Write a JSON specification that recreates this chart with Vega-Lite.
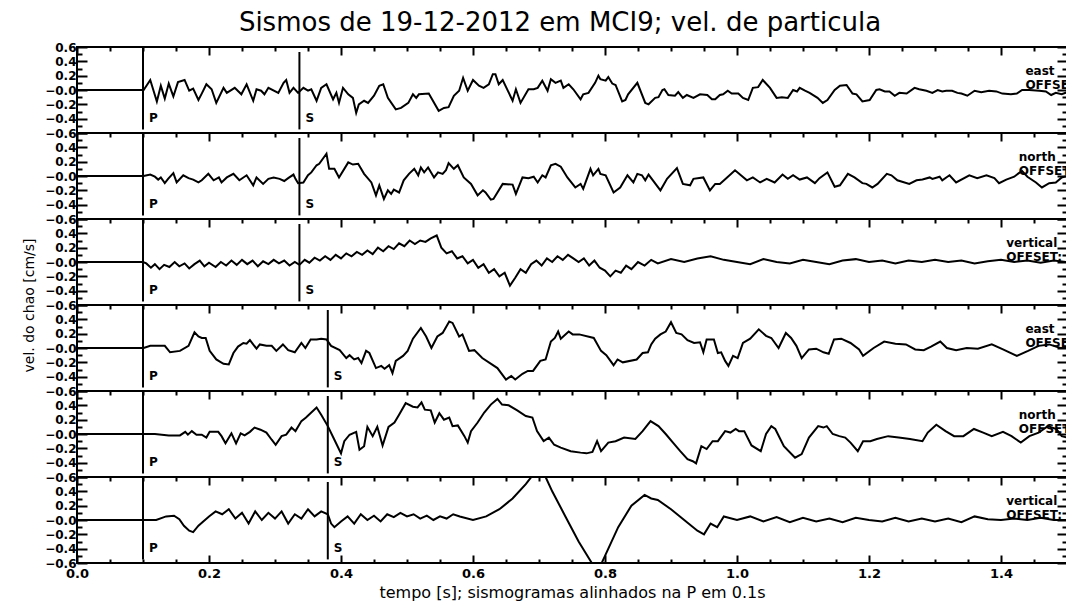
{
"$schema": "https://vega.github.io/schema/vega-lite/v6.json",
"background": "white",
"padding": {"left": 20, "top": 10, "right": 0, "bottom": 0},
"title": {"text": "Sismos de 19-12-2012 em MCI9; vel. de particula", "font": "DejaVu Sans", "fontSize": 26, "fontWeight": "normal", "color": "black", "anchor": "middle", "frame": "group", "offset": 4, "dx": -12},
"datasets": {
"p1": [{"t":0,"v":0},{"t":0.1,"v":0},{"t":0.101,"v":0},{"t":0.111,"v":0.14},{"t":0.121,"v":-0.16},{"t":0.127,"v":0.06},{"t":0.133,"v":-0.12},{"t":0.139,"v":0.09},{"t":0.146,"v":-0.09},{"t":0.153,"v":0.11},{"t":0.163,"v":0.14},{"t":0.17,"v":-0.01},{"t":0.176,"v":0.02},{"t":0.184,"v":-0.14},{"t":0.189,"v":-0.05},{"t":0.196,"v":0.08},{"t":0.204,"v":0.01},{"t":0.211,"v":-0.18},{"t":0.222,"v":0.03},{"t":0.227,"v":-0.04},{"t":0.239,"v":0.03},{"t":0.249,"v":-0.06},{"t":0.257,"v":0.08},{"t":0.267,"v":-0.15},{"t":0.272,"v":0.01},{"t":0.279,"v":-0.01},{"t":0.284,"v":-0.06},{"t":0.29,"v":0.03},{"t":0.305,"v":-0.04},{"t":0.313,"v":0.1},{"t":0.317,"v":0.14},{"t":0.322,"v":-0.04},{"t":0.328,"v":0.03},{"t":0.335,"v":-0.04},{"t":0.343,"v":0.03},{"t":0.35,"v":-0.01},{"t":0.355,"v":0.01},{"t":0.363,"v":-0.15},{"t":0.37,"v":0.03},{"t":0.378,"v":0.08},{"t":0.388,"v":-0.13},{"t":0.393,"v":-0.04},{"t":0.397,"v":-0.18},{"t":0.403,"v":0.03},{"t":0.411,"v":-0.06},{"t":0.418,"v":-0.11},{"t":0.423,"v":-0.32},{"t":0.427,"v":-0.2},{"t":0.435,"v":-0.15},{"t":0.441,"v":-0.18},{"t":0.45,"v":-0.08},{"t":0.458,"v":0.06},{"t":0.464,"v":0.08},{"t":0.471,"v":-0.11},{"t":0.483,"v":-0.27},{"t":0.491,"v":-0.25},{"t":0.502,"v":-0.18},{"t":0.509,"v":-0.06},{"t":0.514,"v":-0.11},{"t":0.518,"v":-0.06},{"t":0.533,"v":-0.05},{"t":0.548,"v":-0.29},{"t":0.556,"v":-0.25},{"t":0.563,"v":-0.24},{"t":0.571,"v":-0.08},{"t":0.579,"v":-0.01},{"t":0.585,"v":0.17},{"t":0.592,"v":-0.01},{"t":0.6,"v":0.14},{"t":0.609,"v":0.06},{"t":0.616,"v":0.03},{"t":0.624,"v":0.08},{"t":0.63,"v":0.22},{"t":0.634,"v":0.22},{"t":0.639,"v":0.08},{"t":0.645,"v":0.14},{"t":0.66,"v":-0.15},{"t":0.665,"v":0.01},{"t":0.672,"v":-0.18},{"t":0.684,"v":0.01},{"t":0.692,"v":0.01},{"t":0.698,"v":0.03},{"t":0.705,"v":0.13},{"t":0.713,"v":-0.01},{"t":0.718,"v":0.15},{"t":0.725,"v":0.1},{"t":0.733,"v":0.13},{"t":0.737,"v":0.03},{"t":0.745,"v":0.08},{"t":0.752,"v":0.01},{"t":0.763,"v":-0.13},{"t":0.767,"v":-0.06},{"t":0.775,"v":-0.04},{"t":0.785,"v":0.1},{"t":0.79,"v":0.2},{"t":0.793,"v":0.15},{"t":0.801,"v":0.13},{"t":0.805,"v":0.18},{"t":0.811,"v":0.09},{"t":0.816,"v":0.07},{"t":0.826,"v":-0.16},{"t":0.831,"v":-0.14},{"t":0.835,"v":-0.06},{"t":0.849,"v":0.1},{"t":0.861,"v":-0.18},{"t":0.866,"v":-0.2},{"t":0.876,"v":-0.11},{"t":0.881,"v":-0.1},{"t":0.887,"v":0},{"t":0.89,"v":0.01},{"t":0.896,"v":-0.07},{"t":0.906,"v":-0.08},{"t":0.911,"v":-0.03},{"t":0.918,"v":-0.11},{"t":0.924,"v":-0.07},{"t":0.934,"v":-0.11},{"t":0.944,"v":-0.06},{"t":0.955,"v":-0.07},{"t":0.962,"v":-0.13},{"t":0.967,"v":-0.13},{"t":0.974,"v":-0.07},{"t":0.979,"v":-0.06},{"t":0.986,"v":-0.01},{"t":0.992,"v":-0.05},{"t":1.002,"v":-0.05},{"t":1.009,"v":-0.11},{"t":1.017,"v":-0.14},{"t":1.024,"v":0.03},{"t":1.032,"v":0.04},{"t":1.039,"v":0.14},{"t":1.05,"v":0.03},{"t":1.06,"v":-0.11},{"t":1.068,"v":-0.1},{"t":1.077,"v":-0.11},{"t":1.085,"v":0},{"t":1.091,"v":-0.02},{"t":1.095,"v":0.03},{"t":1.103,"v":-0.01},{"t":1.11,"v":-0.04},{"t":1.122,"v":-0.11},{"t":1.13,"v":-0.18},{"t":1.137,"v":-0.14},{"t":1.148,"v":0},{"t":1.156,"v":0.06},{"t":1.166,"v":0.07},{"t":1.175,"v":-0.05},{"t":1.181,"v":-0.06},{"t":1.19,"v":-0.16},{"t":1.201,"v":-0.14},{"t":1.211,"v":0},{"t":1.216,"v":0.01},{"t":1.224,"v":-0.02},{"t":1.231,"v":-0.02},{"t":1.239,"v":-0.08},{"t":1.246,"v":-0.04},{"t":1.257,"v":-0.05},{"t":1.269,"v":0.03},{"t":1.276,"v":0.01},{"t":1.287,"v":-0.01},{"t":1.296,"v":-0.04},{"t":1.304,"v":0},{"t":1.311,"v":-0.02},{"t":1.317,"v":-0.01},{"t":1.326,"v":-0.01},{"t":1.334,"v":-0.04},{"t":1.34,"v":-0.05},{"t":1.349,"v":-0.08},{"t":1.36,"v":-0.01},{"t":1.37,"v":-0.03},{"t":1.382,"v":-0.01},{"t":1.393,"v":-0.02},{"t":1.402,"v":-0.05},{"t":1.415,"v":-0.06},{"t":1.424,"v":-0.05},{"t":1.432,"v":0},{"t":1.443,"v":0},{"t":1.458,"v":-0.01},{"t":1.468,"v":-0.02},{"t":1.476,"v":-0.07},{"t":1.483,"v":-0.04},{"t":1.492,"v":-0.06},{"t":1.5,"v":-0.03}],
"p2": [{"t":0,"v":0},{"t":0.1,"v":0},{"t":0.101,"v":0},{"t":0.111,"v":0.02},{"t":0.118,"v":-0.01},{"t":0.123,"v":-0.05},{"t":0.127,"v":-0.02},{"t":0.133,"v":-0.1},{"t":0.138,"v":-0.04},{"t":0.146,"v":0.04},{"t":0.151,"v":-0.09},{"t":0.161,"v":0.01},{"t":0.169,"v":-0.03},{"t":0.176,"v":-0.05},{"t":0.184,"v":-0.09},{"t":0.189,"v":-0.06},{"t":0.199,"v":0.03},{"t":0.207,"v":-0.06},{"t":0.215,"v":-0.02},{"t":0.219,"v":-0.09},{"t":0.227,"v":-0.02},{"t":0.237,"v":0.03},{"t":0.246,"v":-0.06},{"t":0.257,"v":0.01},{"t":0.267,"v":-0.13},{"t":0.272,"v":-0.02},{"t":0.282,"v":-0.11},{"t":0.29,"v":-0.04},{"t":0.298,"v":-0.02},{"t":0.307,"v":-0.04},{"t":0.314,"v":-0.07},{"t":0.32,"v":-0.03},{"t":0.328,"v":0.02},{"t":0.331,"v":-0.04},{"t":0.335,"v":-0.1},{"t":0.343,"v":-0.09},{"t":0.35,"v":0.01},{"t":0.355,"v":0.05},{"t":0.363,"v":0.15},{"t":0.367,"v":0.17},{"t":0.378,"v":0.31},{"t":0.382,"v":0.1},{"t":0.39,"v":0.1},{"t":0.397,"v":-0.02},{"t":0.411,"v":0.19},{"t":0.418,"v":0.16},{"t":0.426,"v":0.17},{"t":0.435,"v":0.03},{"t":0.446,"v":-0.09},{"t":0.453,"v":-0.27},{"t":0.458,"v":-0.13},{"t":0.465,"v":-0.32},{"t":0.471,"v":-0.2},{"t":0.476,"v":-0.25},{"t":0.48,"v":-0.19},{"t":0.488,"v":-0.23},{"t":0.495,"v":-0.06},{"t":0.503,"v":0.03},{"t":0.511,"v":0.1},{"t":0.517,"v":0.01},{"t":0.521,"v":0.12},{"t":0.526,"v":0.05},{"t":0.532,"v":0.12},{"t":0.541,"v":-0.02},{"t":0.547,"v":0.05},{"t":0.554,"v":0.03},{"t":0.559,"v":0.08},{"t":0.563,"v":0.18},{"t":0.571,"v":0.1},{"t":0.577,"v":0.15},{"t":0.586,"v":-0.02},{"t":0.597,"v":-0.11},{"t":0.607,"v":-0.27},{"t":0.615,"v":-0.2},{"t":0.619,"v":-0.23},{"t":0.627,"v":-0.33},{"t":0.631,"v":-0.32},{"t":0.645,"v":-0.11},{"t":0.66,"v":-0.12},{"t":0.665,"v":-0.25},{"t":0.675,"v":-0.02},{"t":0.684,"v":-0.03},{"t":0.692,"v":-0.01},{"t":0.698,"v":-0.09},{"t":0.705,"v":0.01},{"t":0.71,"v":-0.02},{"t":0.718,"v":0.15},{"t":0.725,"v":0.17},{"t":0.733,"v":0.13},{"t":0.743,"v":-0.02},{"t":0.755,"v":-0.16},{"t":0.763,"v":-0.11},{"t":0.767,"v":-0.18},{"t":0.778,"v":0.1},{"t":0.782,"v":0.01},{"t":0.79,"v":0.1},{"t":0.793,"v":0.03},{"t":0.801,"v":0.01},{"t":0.813,"v":-0.23},{"t":0.823,"v":-0.16},{"t":0.834,"v":0.01},{"t":0.843,"v":-0.09},{"t":0.849,"v":0.03},{"t":0.856,"v":0.01},{"t":0.861,"v":-0.06},{"t":0.866,"v":0.02},{"t":0.884,"v":-0.2},{"t":0.894,"v":-0.04},{"t":0.909,"v":0.11},{"t":0.918,"v":-0.11},{"t":0.929,"v":-0.13},{"t":0.934,"v":-0.04},{"t":0.949,"v":-0.02},{"t":0.959,"v":-0.2},{"t":0.967,"v":-0.11},{"t":0.974,"v":-0.11},{"t":0.985,"v":-0.02},{"t":0.997,"v":0.08},{"t":1.015,"v":-0.06},{"t":1.024,"v":-0.02},{"t":1.035,"v":-0.09},{"t":1.045,"v":-0.04},{"t":1.057,"v":-0.09},{"t":1.069,"v":0.02},{"t":1.077,"v":-0.04},{"t":1.085,"v":0.01},{"t":1.095,"v":-0.05},{"t":1.106,"v":-0.02},{"t":1.118,"v":-0.1},{"t":1.125,"v":-0.03},{"t":1.137,"v":0.05},{"t":1.148,"v":-0.15},{"t":1.156,"v":-0.13},{"t":1.168,"v":0.03},{"t":1.178,"v":-0.02},{"t":1.19,"v":-0.1},{"t":1.196,"v":-0.11},{"t":1.205,"v":-0.16},{"t":1.213,"v":-0.11},{"t":1.227,"v":0.03},{"t":1.234,"v":0.01},{"t":1.243,"v":-0.06},{"t":1.261,"v":-0.11},{"t":1.272,"v":-0.06},{"t":1.281,"v":-0.05},{"t":1.292,"v":-0.02},{"t":1.296,"v":-0.04},{"t":1.307,"v":-0.01},{"t":1.311,"v":-0.06},{"t":1.322,"v":0.01},{"t":1.332,"v":-0.09},{"t":1.352,"v":0.01},{"t":1.364,"v":-0.03},{"t":1.378,"v":0.01},{"t":1.39,"v":-0.03},{"t":1.397,"v":-0.1},{"t":1.408,"v":-0.05},{"t":1.42,"v":-0.01},{"t":1.427,"v":0.04},{"t":1.432,"v":0.07},{"t":1.44,"v":-0.01},{"t":1.453,"v":-0.09},{"t":1.462,"v":-0.16},{"t":1.473,"v":-0.1},{"t":1.483,"v":-0.09},{"t":1.492,"v":-0.02},{"t":1.5,"v":0}],
"p3": [{"t":0,"v":0},{"t":0.1,"v":0},{"t":0.105,"v":-0.02},{"t":0.112,"v":-0.08},{"t":0.118,"v":-0.03},{"t":0.125,"v":-0.1},{"t":0.132,"v":-0.04},{"t":0.14,"v":-0.07},{"t":0.148,"v":0},{"t":0.155,"v":-0.06},{"t":0.163,"v":-0.02},{"t":0.17,"v":-0.09},{"t":0.178,"v":-0.03},{"t":0.186,"v":0.02},{"t":0.193,"v":-0.06},{"t":0.2,"v":-0.01},{"t":0.21,"v":-0.07},{"t":0.218,"v":0},{"t":0.226,"v":-0.05},{"t":0.234,"v":0.02},{"t":0.242,"v":-0.04},{"t":0.25,"v":0.03},{"t":0.258,"v":-0.03},{"t":0.266,"v":0.02},{"t":0.274,"v":-0.06},{"t":0.282,"v":0.01},{"t":0.29,"v":-0.03},{"t":0.298,"v":0.03},{"t":0.306,"v":-0.02},{"t":0.314,"v":0.02},{"t":0.322,"v":-0.05},{"t":0.33,"v":0},{"t":0.337,"v":-0.04},{"t":0.345,"v":0.03},{"t":0.352,"v":-0.01},{"t":0.36,"v":0.06},{"t":0.368,"v":0.02},{"t":0.376,"v":0.08},{"t":0.384,"v":0.03},{"t":0.392,"v":0.1},{"t":0.4,"v":0.05},{"t":0.408,"v":0.12},{"t":0.416,"v":0.08},{"t":0.424,"v":0.14},{"t":0.432,"v":0.1},{"t":0.44,"v":0.16},{"t":0.448,"v":0.11},{"t":0.456,"v":0.2},{"t":0.464,"v":0.15},{"t":0.472,"v":0.22},{"t":0.48,"v":0.18},{"t":0.488,"v":0.26},{"t":0.496,"v":0.22},{"t":0.504,"v":0.3},{"t":0.512,"v":0.25},{"t":0.52,"v":0.3},{"t":0.528,"v":0.28},{"t":0.536,"v":0.33},{"t":0.545,"v":0.37},{"t":0.552,"v":0.2},{"t":0.56,"v":0.12},{"t":0.568,"v":0.15},{"t":0.576,"v":0.05},{"t":0.584,"v":0.08},{"t":0.592,"v":-0.02},{"t":0.6,"v":0.03},{"t":0.608,"v":-0.08},{"t":0.616,"v":-0.03},{"t":0.624,"v":-0.15},{"t":0.632,"v":-0.1},{"t":0.64,"v":-0.2},{"t":0.648,"v":-0.15},{"t":0.656,"v":-0.33},{"t":0.664,"v":-0.22},{"t":0.672,"v":-0.1},{"t":0.68,"v":-0.15},{"t":0.688,"v":-0.03},{"t":0.696,"v":0.02},{"t":0.704,"v":-0.05},{"t":0.712,"v":0.05},{"t":0.72,"v":0},{"t":0.728,"v":0.08},{"t":0.736,"v":0.03},{"t":0.744,"v":0.1},{"t":0.752,"v":0.05},{"t":0.76,"v":0},{"t":0.768,"v":0.05},{"t":0.776,"v":-0.05},{"t":0.784,"v":0.02},{"t":0.792,"v":-0.08},{"t":0.8,"v":-0.12},{"t":0.808,"v":-0.2},{"t":0.816,"v":-0.12},{"t":0.824,"v":-0.15},{"t":0.832,"v":-0.05},{"t":0.84,"v":-0.1},{"t":0.85,"v":0},{"t":0.86,"v":-0.05},{"t":0.87,"v":0.03},{"t":0.88,"v":-0.02},{"t":0.9,"v":0.04},{"t":0.92,"v":0},{"t":0.94,"v":0.05},{"t":0.96,"v":0.08},{"t":0.98,"v":0.03},{"t":1,"v":0},{"t":1.02,"v":-0.03},{"t":1.04,"v":0.04},{"t":1.06,"v":0},{"t":1.08,"v":-0.02},{"t":1.1,"v":0.03},{"t":1.12,"v":0},{"t":1.14,"v":-0.03},{"t":1.16,"v":0.02},{"t":1.18,"v":0.04},{"t":1.2,"v":0},{"t":1.22,"v":0.02},{"t":1.24,"v":-0.02},{"t":1.26,"v":0.02},{"t":1.28,"v":0},{"t":1.3,"v":0.03},{"t":1.32,"v":0},{"t":1.34,"v":0.02},{"t":1.36,"v":-0.02},{"t":1.38,"v":0.01},{"t":1.4,"v":0.03},{"t":1.42,"v":0},{"t":1.44,"v":0.02},{"t":1.46,"v":-0.01},{"t":1.48,"v":0.02},{"t":1.5,"v":0}],
"p4": [{"t":0,"v":0},{"t":0.1,"v":0},{"t":0.101,"v":0},{"t":0.111,"v":0.03},{"t":0.133,"v":0.03},{"t":0.141,"v":-0.06},{"t":0.156,"v":-0.04},{"t":0.169,"v":0.03},{"t":0.178,"v":0.22},{"t":0.184,"v":0.16},{"t":0.189,"v":0.14},{"t":0.195,"v":0.14},{"t":0.201,"v":-0.04},{"t":0.211,"v":-0.16},{"t":0.222,"v":-0.22},{"t":0.23,"v":-0.23},{"t":0.237,"v":-0.07},{"t":0.244,"v":0.02},{"t":0.252,"v":0.07},{"t":0.257,"v":0.06},{"t":0.262,"v":0.11},{"t":0.272,"v":-0.01},{"t":0.277,"v":0.05},{"t":0.287,"v":0.03},{"t":0.295,"v":0.03},{"t":0.302,"v":-0.04},{"t":0.312,"v":0.05},{"t":0.32,"v":-0.03},{"t":0.33,"v":-0.06},{"t":0.34,"v":0.07},{"t":0.346,"v":0},{"t":0.354,"v":0.12},{"t":0.363,"v":0.12},{"t":0.37,"v":0.13},{"t":0.378,"v":0.12},{"t":0.385,"v":0.03},{"t":0.398,"v":-0.03},{"t":0.408,"v":-0.14},{"t":0.413,"v":-0.1},{"t":0.42,"v":-0.16},{"t":0.426,"v":-0.14},{"t":0.431,"v":-0.21},{"t":0.438,"v":-0.04},{"t":0.443,"v":-0.07},{"t":0.453,"v":-0.28},{"t":0.461,"v":-0.25},{"t":0.466,"v":-0.29},{"t":0.473,"v":-0.24},{"t":0.478,"v":-0.35},{"t":0.483,"v":-0.18},{"t":0.494,"v":-0.11},{"t":0.501,"v":-0.04},{"t":0.509,"v":0.13},{"t":0.521,"v":0.28},{"t":0.529,"v":0.16},{"t":0.537,"v":0},{"t":0.546,"v":0.16},{"t":0.554,"v":0.21},{"t":0.564,"v":0.37},{"t":0.569,"v":0.35},{"t":0.579,"v":0.16},{"t":0.584,"v":0.19},{"t":0.594,"v":-0.04},{"t":0.602,"v":-0.03},{"t":0.614,"v":-0.14},{"t":0.637,"v":-0.28},{"t":0.65,"v":-0.44},{"t":0.658,"v":-0.39},{"t":0.664,"v":-0.44},{"t":0.675,"v":-0.36},{"t":0.683,"v":-0.32},{"t":0.691,"v":-0.32},{"t":0.702,"v":-0.18},{"t":0.71,"v":-0.16},{"t":0.718,"v":0.09},{"t":0.724,"v":0.14},{"t":0.729,"v":0.23},{"t":0.733,"v":0.13},{"t":0.745,"v":0.23},{"t":0.751,"v":0.19},{"t":0.761,"v":0.19},{"t":0.783,"v":0.14},{"t":0.794,"v":-0.04},{"t":0.802,"v":-0.1},{"t":0.813,"v":-0.24},{"t":0.819,"v":-0.16},{"t":0.827,"v":-0.2},{"t":0.848,"v":-0.16},{"t":0.857,"v":-0.07},{"t":0.865,"v":-0.06},{"t":0.87,"v":0.05},{"t":0.876,"v":0.13},{"t":0.884,"v":0.19},{"t":0.892,"v":0.23},{"t":0.9,"v":0.36},{"t":0.908,"v":0.21},{"t":0.916,"v":0.19},{"t":0.925,"v":0.11},{"t":0.935,"v":0.07},{"t":0.944,"v":0.08},{"t":0.949,"v":-0.06},{"t":0.954,"v":0.12},{"t":0.965,"v":0.12},{"t":0.971,"v":-0.07},{"t":0.976,"v":-0.06},{"t":0.982,"v":-0.18},{"t":0.987,"v":-0.25},{"t":0.994,"v":-0.11},{"t":1.001,"v":-0.14},{"t":1.009,"v":0.07},{"t":1.02,"v":0.13},{"t":1.033,"v":0.26},{"t":1.044,"v":0.17},{"t":1.052,"v":0.14},{"t":1.063,"v":0},{"t":1.074,"v":0.21},{"t":1.082,"v":0.14},{"t":1.09,"v":0.03},{"t":1.098,"v":-0.14},{"t":1.109,"v":-0.02},{"t":1.12,"v":-0.01},{"t":1.131,"v":-0.06},{"t":1.139,"v":-0.08},{"t":1.147,"v":0.12},{"t":1.158,"v":0.13},{"t":1.172,"v":0.07},{"t":1.185,"v":-0.02},{"t":1.191,"v":-0.11},{"t":1.207,"v":0},{"t":1.223,"v":0.09},{"t":1.24,"v":0.06},{"t":1.256,"v":0.05},{"t":1.27,"v":-0.02},{"t":1.283,"v":-0.03},{"t":1.294,"v":0.02},{"t":1.308,"v":0.09},{"t":1.318,"v":0},{"t":1.332,"v":-0.03},{"t":1.348,"v":0},{"t":1.365,"v":-0.01},{"t":1.386,"v":0.05},{"t":1.403,"v":-0.02},{"t":1.424,"v":-0.11},{"t":1.441,"v":-0.04},{"t":1.457,"v":0.03},{"t":1.473,"v":0.05},{"t":1.49,"v":0},{"t":1.5,"v":0}],
"p5": [{"t":0,"v":0},{"t":0.1,"v":0},{"t":0.101,"v":0},{"t":0.118,"v":0},{"t":0.139,"v":-0.02},{"t":0.156,"v":-0.02},{"t":0.164,"v":0.03},{"t":0.168,"v":-0.01},{"t":0.174,"v":0.04},{"t":0.181,"v":-0.01},{"t":0.189,"v":-0.01},{"t":0.196,"v":-0.05},{"t":0.201,"v":0.03},{"t":0.214,"v":0.03},{"t":0.219,"v":-0.03},{"t":0.225,"v":-0.13},{"t":0.234,"v":0.01},{"t":0.241,"v":-0.13},{"t":0.248,"v":0.01},{"t":0.254,"v":-0.02},{"t":0.262,"v":0.03},{"t":0.269,"v":0.09},{"t":0.278,"v":0.06},{"t":0.287,"v":0.02},{"t":0.295,"v":-0.08},{"t":0.301,"v":-0.15},{"t":0.31,"v":-0.03},{"t":0.317,"v":-0.01},{"t":0.325,"v":0.09},{"t":0.331,"v":0.04},{"t":0.34,"v":0.18},{"t":0.347,"v":0.23},{"t":0.355,"v":0.3},{"t":0.363,"v":0.37},{"t":0.37,"v":0.27},{"t":0.38,"v":0.11},{"t":0.39,"v":-0.08},{"t":0.4,"v":-0.27},{"t":0.405,"v":-0.1},{"t":0.413,"v":-0.01},{"t":0.423,"v":0.03},{"t":0.428,"v":-0.22},{"t":0.435,"v":-0.17},{"t":0.44,"v":0.1},{"t":0.448,"v":-0.03},{"t":0.455,"v":0.1},{"t":0.463,"v":-0.16},{"t":0.472,"v":0.1},{"t":0.481,"v":0.16},{"t":0.488,"v":0.27},{"t":0.498,"v":0.43},{"t":0.509,"v":0.38},{"t":0.516,"v":0.37},{"t":0.522,"v":0.44},{"t":0.527,"v":0.34},{"t":0.536,"v":0.33},{"t":0.542,"v":0.16},{"t":0.549,"v":0.29},{"t":0.556,"v":0.2},{"t":0.564,"v":0.23},{"t":0.569,"v":0.11},{"t":0.577,"v":0.12},{"t":0.587,"v":-0.03},{"t":0.592,"v":-0.12},{"t":0.597,"v":0.04},{"t":0.607,"v":0.16},{"t":0.617,"v":0.3},{"t":0.627,"v":0.41},{"t":0.637,"v":0.49},{"t":0.644,"v":0.41},{"t":0.654,"v":0.4},{"t":0.667,"v":0.33},{"t":0.68,"v":0.25},{"t":0.69,"v":0.23},{"t":0.697,"v":0.04},{"t":0.707,"v":-0.1},{"t":0.715,"v":-0.05},{"t":0.723,"v":-0.15},{"t":0.733,"v":-0.19},{"t":0.748,"v":-0.24},{"t":0.763,"v":-0.26},{"t":0.772,"v":-0.27},{"t":0.781,"v":-0.25},{"t":0.788,"v":-0.1},{"t":0.794,"v":-0.24},{"t":0.805,"v":-0.12},{"t":0.816,"v":-0.1},{"t":0.829,"v":-0.05},{"t":0.846,"v":-0.07},{"t":0.857,"v":0.04},{"t":0.869,"v":0.18},{"t":0.881,"v":0.11},{"t":0.892,"v":0},{"t":0.903,"v":-0.12},{"t":0.914,"v":-0.24},{"t":0.925,"v":-0.35},{"t":0.933,"v":-0.38},{"t":0.938,"v":-0.41},{"t":0.946,"v":-0.17},{"t":0.954,"v":-0.21},{"t":0.963,"v":-0.1},{"t":0.971,"v":-0.1},{"t":0.982,"v":0.04},{"t":0.99,"v":0.02},{"t":0.998,"v":0.07},{"t":1.003,"v":0.04},{"t":1.011,"v":0.04},{"t":1.022,"v":-0.16},{"t":1.036,"v":-0.24},{"t":1.044,"v":0},{"t":1.052,"v":0.11},{"t":1.058,"v":0.07},{"t":1.071,"v":-0.17},{"t":1.088,"v":-0.33},{"t":1.098,"v":-0.28},{"t":1.109,"v":-0.05},{"t":1.123,"v":0.11},{"t":1.131,"v":0.09},{"t":1.136,"v":0.11},{"t":1.145,"v":0},{"t":1.155,"v":-0.03},{"t":1.164,"v":-0.05},{"t":1.172,"v":-0.12},{"t":1.183,"v":-0.24},{"t":1.191,"v":-0.1},{"t":1.202,"v":-0.1},{"t":1.212,"v":-0.07},{"t":1.229,"v":-0.03},{"t":1.245,"v":-0.05},{"t":1.262,"v":-0.07},{"t":1.281,"v":-0.1},{"t":1.289,"v":0.02},{"t":1.302,"v":0.13},{"t":1.316,"v":0.04},{"t":1.329,"v":-0.03},{"t":1.343,"v":-0.03},{"t":1.359,"v":0.07},{"t":1.373,"v":0.02},{"t":1.386,"v":-0.03},{"t":1.403,"v":0.03},{"t":1.416,"v":-0.03},{"t":1.43,"v":-0.12},{"t":1.443,"v":-0.03},{"t":1.457,"v":0.02},{"t":1.471,"v":0.11},{"t":1.484,"v":0.07},{"t":1.492,"v":-0.03},{"t":1.5,"v":-0.05}],
"p6": [{"t":0,"v":0},{"t":0.1,"v":0},{"t":0.12,"v":0},{"t":0.135,"v":0.05},{"t":0.147,"v":0.06},{"t":0.155,"v":0.01},{"t":0.162,"v":-0.08},{"t":0.17,"v":-0.15},{"t":0.176,"v":-0.17},{"t":0.184,"v":-0.08},{"t":0.19,"v":-0.03},{"t":0.2,"v":0.05},{"t":0.21,"v":0.12},{"t":0.22,"v":0.08},{"t":0.23,"v":0.15},{"t":0.24,"v":0.02},{"t":0.25,"v":0.1},{"t":0.26,"v":-0.05},{"t":0.27,"v":0.12},{"t":0.28,"v":0},{"t":0.29,"v":0.1},{"t":0.3,"v":0.02},{"t":0.31,"v":0.12},{"t":0.32,"v":-0.05},{"t":0.33,"v":0.08},{"t":0.34,"v":0.02},{"t":0.35,"v":0.15},{"t":0.36,"v":0.05},{"t":0.37,"v":0.12},{"t":0.38,"v":0.08},{"t":0.385,"v":-0.05},{"t":0.39,"v":-0.1},{"t":0.4,"v":-0.02},{"t":0.41,"v":0.05},{"t":0.42,"v":-0.05},{"t":0.43,"v":0.08},{"t":0.44,"v":0},{"t":0.45,"v":0.06},{"t":0.46,"v":-0.02},{"t":0.47,"v":0.08},{"t":0.48,"v":0.04},{"t":0.49,"v":0.1},{"t":0.5,"v":0.05},{"t":0.51,"v":0.08},{"t":0.52,"v":0.02},{"t":0.53,"v":0.06},{"t":0.54,"v":0},{"t":0.55,"v":0.05},{"t":0.56,"v":0.02},{"t":0.57,"v":0.08},{"t":0.58,"v":0.05},{"t":0.6,"v":0},{"t":0.62,"v":0.05},{"t":0.64,"v":0.15},{"t":0.66,"v":0.3},{"t":0.68,"v":0.5},{"t":0.69,"v":0.62},{"t":0.7,"v":0.7},{"t":0.71,"v":0.6},{"t":0.72,"v":0.4},{"t":0.74,"v":0.05},{"t":0.76,"v":-0.3},{"t":0.78,"v":-0.6},{"t":0.79,"v":-0.7},{"t":0.8,"v":-0.5},{"t":0.82,"v":-0.1},{"t":0.84,"v":0.2},{"t":0.86,"v":0.35},{"t":0.87,"v":0.3},{"t":0.88,"v":0.28},{"t":0.9,"v":0.15},{"t":0.92,"v":0},{"t":0.94,"v":-0.15},{"t":0.95,"v":-0.2},{"t":0.96,"v":-0.05},{"t":0.97,"v":-0.1},{"t":0.98,"v":0.05},{"t":1,"v":0},{"t":1.02,"v":0.05},{"t":1.04,"v":-0.02},{"t":1.06,"v":0.04},{"t":1.08,"v":-0.03},{"t":1.1,"v":0.03},{"t":1.12,"v":-0.02},{"t":1.14,"v":0.02},{"t":1.16,"v":-0.03},{"t":1.18,"v":0.03},{"t":1.2,"v":0},{"t":1.22,"v":-0.02},{"t":1.24,"v":0.03},{"t":1.26,"v":-0.02},{"t":1.28,"v":0.02},{"t":1.3,"v":-0.02},{"t":1.32,"v":0.02},{"t":1.34,"v":-0.03},{"t":1.36,"v":0.05},{"t":1.38,"v":0.01},{"t":1.4,"v":0},{"t":1.42,"v":0.02},{"t":1.44,"v":0},{"t":1.46,"v":0.03},{"t":1.48,"v":0},{"t":1.5,"v":0}]
},
"spacing": 0,
"bounds": "flush",
"vconcat": [
{"width": 990, "height": 86, "resolve": {"axis": {"x": "independent", "y": "independent"}},
 "layer": [
  {"data": {"name": "p1"}, "mark": {"type": "line", "clip": true, "color": "black", "strokeWidth": 2},
   "encoding": {"x": {"field": "t", "type": "quantitative", "scale": {"domain": [0, 1.5], "nice": false, "zero": false}, "axis": {"orient": "top", "values": [0.05,0.1,0.15,0.25,0.3,0.35,0.45,0.5,0.55,0.65,0.7,0.75,0.85,0.9,0.95,1.05,1.1,1.15,1.25,1.3,1.35,1.45], "tickSize": 4, "offset": -4, "labels": false, "title": null}},
    "y": {"field": "v", "type": "quantitative", "scale": {"domain": [-0.6, 0.6], "nice": false, "zero": false}, "axis": {"orient": "left", "values": [-0.6,-0.4,-0.2,0,0.2,0.4,0.6], "tickSize": 10, "offset": -10, "labelPadding": 1, "labelExpr": "abs(datum.value) < 0.01 ? '−0.0' : format(datum.value, '.1f')", "title": null}}}},
  {"data": {"values": [{"ph": "P", "t": 0.1}]}, "mark": {"type": "rule", "color": "black", "strokeWidth": 2},
   "encoding": {"x": {"field": "t", "type": "quantitative", "scale": {"domain": [0, 1.5], "nice": false, "zero": false}, "axis": {"orient": "top", "values": [0,0.2,0.4,0.6,0.8,1,1.2,1.4], "tickSize": 8, "offset": -8, "labels": false, "title": null}},
    "y": {"datum": 0.6, "type": "quantitative", "scale": {"domain": [-0.6, 0.6], "nice": false, "zero": false}, "axis": {"orient": "left", "values": [-0.5,-0.3,-0.1,0.1,0.3,0.5], "tickSize": 5, "offset": -5, "labels": false, "title": null}},
    "y2": {"datum": -0.55}}},
  {"data": {"values": [{"ph": "S", "t": 0.337}]}, "mark": {"type": "rule", "color": "black", "strokeWidth": 2},
   "encoding": {"x": {"field": "t", "type": "quantitative", "scale": {"domain": [0, 1.5], "nice": false, "zero": false}, "axis": null},
    "y": {"datum": 0.53, "type": "quantitative", "scale": {"domain": [-0.6, 0.6], "nice": false, "zero": false}, "axis": {"orient": "right", "values": [-0.6,-0.4,-0.2,0,0.2,0.4,0.6], "tickSize": 10, "offset": -10, "labels": false, "title": null}},
    "y2": {"datum": -0.55}}},
  {"data": {"values": [{"ph": "P", "t": 0.1}, {"ph": "S", "t": 0.337}]}, "mark": {"type": "text", "align": "left", "baseline": "middle", "dx": 6, "font": "DejaVu Sans", "fontSize": 12, "fontWeight": "bold", "color": "black"},
   "encoding": {"x": {"field": "t", "type": "quantitative", "scale": {"domain": [0, 1.5], "nice": false, "zero": false}, "axis": null},
    "y": {"datum": -0.39, "type": "quantitative", "scale": {"domain": [-0.6, 0.6], "nice": false, "zero": false}, "axis": {"orient": "right", "values": [-0.5,-0.3,-0.1,0.1,0.3,0.5], "tickSize": 5, "offset": -5, "labels": false, "title": null}},
    "text": {"field": "ph"}}},
  {"data": {"values": [{"lab": "east\nOFFSET:"}]}, "mark": {"type": "text", "align": "left", "baseline": "middle", "lineBreak": "\n", "lineHeight": 14, "clip": true, "font": "DejaVu Sans", "fontSize": 12, "fontWeight": "bold", "color": "black"},
   "encoding": {"x": {"datum": 1.437, "type": "quantitative", "scale": {"domain": [0, 1.5], "nice": false, "zero": false}, "axis": null},
    "y": {"datum": 0.26, "type": "quantitative", "scale": {"domain": [-0.6, 0.6], "nice": false, "zero": false}, "axis": null},
    "text": {"field": "lab"}}}
 ]},
{"width": 990, "height": 86, "resolve": {"axis": {"x": "independent", "y": "independent"}},
 "layer": [
  {"data": {"name": "p2"}, "mark": {"type": "line", "clip": true, "color": "black", "strokeWidth": 2},
   "encoding": {"x": {"field": "t", "type": "quantitative", "scale": {"domain": [0, 1.5], "nice": false, "zero": false}, "axis": {"orient": "top", "values": [0.05,0.1,0.15,0.25,0.3,0.35,0.45,0.5,0.55,0.65,0.7,0.75,0.85,0.9,0.95,1.05,1.1,1.15,1.25,1.3,1.35,1.45], "tickSize": 4, "offset": -4, "labels": false, "title": null}},
    "y": {"field": "v", "type": "quantitative", "scale": {"domain": [-0.6, 0.6], "nice": false, "zero": false}, "axis": {"orient": "left", "values": [-0.6,-0.4,-0.2,0,0.2,0.4,0.6], "tickSize": 10, "offset": -10, "labelPadding": 1, "labelExpr": "datum.value > 0.55 ? '' : (abs(datum.value) < 0.01 ? '−0.0' : format(datum.value, '.1f'))", "title": null}}}},
  {"data": {"values": [{"ph": "P", "t": 0.1}]}, "mark": {"type": "rule", "color": "black", "strokeWidth": 2},
   "encoding": {"x": {"field": "t", "type": "quantitative", "scale": {"domain": [0, 1.5], "nice": false, "zero": false}, "axis": {"orient": "top", "values": [0,0.2,0.4,0.6,0.8,1,1.2,1.4], "tickSize": 8, "offset": -8, "labels": false, "title": null}},
    "y": {"datum": 0.6, "type": "quantitative", "scale": {"domain": [-0.6, 0.6], "nice": false, "zero": false}, "axis": {"orient": "left", "values": [-0.5,-0.3,-0.1,0.1,0.3,0.5], "tickSize": 5, "offset": -5, "labels": false, "title": null}},
    "y2": {"datum": -0.55}}},
  {"data": {"values": [{"ph": "S", "t": 0.337}]}, "mark": {"type": "rule", "color": "black", "strokeWidth": 2},
   "encoding": {"x": {"field": "t", "type": "quantitative", "scale": {"domain": [0, 1.5], "nice": false, "zero": false}, "axis": null},
    "y": {"datum": 0.53, "type": "quantitative", "scale": {"domain": [-0.6, 0.6], "nice": false, "zero": false}, "axis": {"orient": "right", "values": [-0.6,-0.4,-0.2,0,0.2,0.4,0.6], "tickSize": 10, "offset": -10, "labels": false, "title": null}},
    "y2": {"datum": -0.55}}},
  {"data": {"values": [{"ph": "P", "t": 0.1}, {"ph": "S", "t": 0.337}]}, "mark": {"type": "text", "align": "left", "baseline": "middle", "dx": 6, "font": "DejaVu Sans", "fontSize": 12, "fontWeight": "bold", "color": "black"},
   "encoding": {"x": {"field": "t", "type": "quantitative", "scale": {"domain": [0, 1.5], "nice": false, "zero": false}, "axis": null},
    "y": {"datum": -0.39, "type": "quantitative", "scale": {"domain": [-0.6, 0.6], "nice": false, "zero": false}, "axis": {"orient": "right", "values": [-0.5,-0.3,-0.1,0.1,0.3,0.5], "tickSize": 5, "offset": -5, "labels": false, "title": null}},
    "text": {"field": "ph"}}},
  {"data": {"values": [{"lab": "north\nOFFSET:"}]}, "mark": {"type": "text", "align": "left", "baseline": "middle", "lineBreak": "\n", "lineHeight": 14, "clip": true, "font": "DejaVu Sans", "fontSize": 12, "fontWeight": "bold", "color": "black"},
   "encoding": {"x": {"datum": 1.427, "type": "quantitative", "scale": {"domain": [0, 1.5], "nice": false, "zero": false}, "axis": null},
    "y": {"datum": 0.26, "type": "quantitative", "scale": {"domain": [-0.6, 0.6], "nice": false, "zero": false}, "axis": null},
    "text": {"field": "lab"}}}
 ]},
{"width": 990, "height": 86, "resolve": {"axis": {"x": "independent", "y": "independent"}},
 "layer": [
  {"data": {"name": "p3"}, "mark": {"type": "line", "clip": true, "color": "black", "strokeWidth": 2},
   "encoding": {"x": {"field": "t", "type": "quantitative", "scale": {"domain": [0, 1.5], "nice": false, "zero": false}, "axis": {"orient": "top", "values": [0.05,0.1,0.15,0.25,0.3,0.35,0.45,0.5,0.55,0.65,0.7,0.75,0.85,0.9,0.95,1.05,1.1,1.15,1.25,1.3,1.35,1.45], "tickSize": 4, "offset": -4, "labels": false, "title": null}},
    "y": {"field": "v", "type": "quantitative", "scale": {"domain": [-0.6, 0.6], "nice": false, "zero": false}, "axis": {"orient": "left", "values": [-0.6,-0.4,-0.2,0,0.2,0.4,0.6], "tickSize": 10, "offset": -10, "labelPadding": 1, "labelExpr": "datum.value > 0.55 ? '' : (abs(datum.value) < 0.01 ? '−0.0' : format(datum.value, '.1f'))", "title": "vel. do chao [cm/s]", "titleX": -58, "titleY": 86, "titleAngle": -90, "titleAlign": "center", "titleBaseline": "middle", "titleFontSize": 14}}}},
  {"data": {"values": [{"ph": "P", "t": 0.1}]}, "mark": {"type": "rule", "color": "black", "strokeWidth": 2},
   "encoding": {"x": {"field": "t", "type": "quantitative", "scale": {"domain": [0, 1.5], "nice": false, "zero": false}, "axis": {"orient": "top", "values": [0,0.2,0.4,0.6,0.8,1,1.2,1.4], "tickSize": 8, "offset": -8, "labels": false, "title": null}},
    "y": {"datum": 0.6, "type": "quantitative", "scale": {"domain": [-0.6, 0.6], "nice": false, "zero": false}, "axis": {"orient": "left", "values": [-0.5,-0.3,-0.1,0.1,0.3,0.5], "tickSize": 5, "offset": -5, "labels": false, "title": null}},
    "y2": {"datum": -0.55}}},
  {"data": {"values": [{"ph": "S", "t": 0.337}]}, "mark": {"type": "rule", "color": "black", "strokeWidth": 2},
   "encoding": {"x": {"field": "t", "type": "quantitative", "scale": {"domain": [0, 1.5], "nice": false, "zero": false}, "axis": null},
    "y": {"datum": 0.53, "type": "quantitative", "scale": {"domain": [-0.6, 0.6], "nice": false, "zero": false}, "axis": {"orient": "right", "values": [-0.6,-0.4,-0.2,0,0.2,0.4,0.6], "tickSize": 10, "offset": -10, "labels": false, "title": null}},
    "y2": {"datum": -0.55}}},
  {"data": {"values": [{"ph": "P", "t": 0.1}, {"ph": "S", "t": 0.337}]}, "mark": {"type": "text", "align": "left", "baseline": "middle", "dx": 6, "font": "DejaVu Sans", "fontSize": 12, "fontWeight": "bold", "color": "black"},
   "encoding": {"x": {"field": "t", "type": "quantitative", "scale": {"domain": [0, 1.5], "nice": false, "zero": false}, "axis": null},
    "y": {"datum": -0.39, "type": "quantitative", "scale": {"domain": [-0.6, 0.6], "nice": false, "zero": false}, "axis": {"orient": "right", "values": [-0.5,-0.3,-0.1,0.1,0.3,0.5], "tickSize": 5, "offset": -5, "labels": false, "title": null}},
    "text": {"field": "ph"}}},
  {"data": {"values": [{"lab": "vertical\nOFFSET:"}]}, "mark": {"type": "text", "align": "left", "baseline": "middle", "lineBreak": "\n", "lineHeight": 14, "clip": true, "font": "DejaVu Sans", "fontSize": 12, "fontWeight": "bold", "color": "black"},
   "encoding": {"x": {"datum": 1.408, "type": "quantitative", "scale": {"domain": [0, 1.5], "nice": false, "zero": false}, "axis": null},
    "y": {"datum": 0.26, "type": "quantitative", "scale": {"domain": [-0.6, 0.6], "nice": false, "zero": false}, "axis": null},
    "text": {"field": "lab"}}}
 ]},
{"width": 990, "height": 86, "resolve": {"axis": {"x": "independent", "y": "independent"}},
 "layer": [
  {"data": {"name": "p4"}, "mark": {"type": "line", "clip": true, "color": "black", "strokeWidth": 2},
   "encoding": {"x": {"field": "t", "type": "quantitative", "scale": {"domain": [0, 1.5], "nice": false, "zero": false}, "axis": {"orient": "top", "values": [0.05,0.1,0.15,0.25,0.3,0.35,0.45,0.5,0.55,0.65,0.7,0.75,0.85,0.9,0.95,1.05,1.1,1.15,1.25,1.3,1.35,1.45], "tickSize": 4, "offset": -4, "labels": false, "title": null}},
    "y": {"field": "v", "type": "quantitative", "scale": {"domain": [-0.6, 0.6], "nice": false, "zero": false}, "axis": {"orient": "left", "values": [-0.6,-0.4,-0.2,0,0.2,0.4,0.6], "tickSize": 10, "offset": -10, "labelPadding": 1, "labelExpr": "datum.value > 0.55 ? '' : (abs(datum.value) < 0.01 ? '−0.0' : format(datum.value, '.1f'))", "title": null}}}},
  {"data": {"values": [{"ph": "P", "t": 0.1}]}, "mark": {"type": "rule", "color": "black", "strokeWidth": 2},
   "encoding": {"x": {"field": "t", "type": "quantitative", "scale": {"domain": [0, 1.5], "nice": false, "zero": false}, "axis": {"orient": "top", "values": [0,0.2,0.4,0.6,0.8,1,1.2,1.4], "tickSize": 8, "offset": -8, "labels": false, "title": null}},
    "y": {"datum": 0.6, "type": "quantitative", "scale": {"domain": [-0.6, 0.6], "nice": false, "zero": false}, "axis": {"orient": "left", "values": [-0.5,-0.3,-0.1,0.1,0.3,0.5], "tickSize": 5, "offset": -5, "labels": false, "title": null}},
    "y2": {"datum": -0.55}}},
  {"data": {"values": [{"ph": "S", "t": 0.38}]}, "mark": {"type": "rule", "color": "black", "strokeWidth": 2},
   "encoding": {"x": {"field": "t", "type": "quantitative", "scale": {"domain": [0, 1.5], "nice": false, "zero": false}, "axis": null},
    "y": {"datum": 0.53, "type": "quantitative", "scale": {"domain": [-0.6, 0.6], "nice": false, "zero": false}, "axis": {"orient": "right", "values": [-0.6,-0.4,-0.2,0,0.2,0.4,0.6], "tickSize": 10, "offset": -10, "labels": false, "title": null}},
    "y2": {"datum": -0.55}}},
  {"data": {"values": [{"ph": "P", "t": 0.1}, {"ph": "S", "t": 0.38}]}, "mark": {"type": "text", "align": "left", "baseline": "middle", "dx": 6, "font": "DejaVu Sans", "fontSize": 12, "fontWeight": "bold", "color": "black"},
   "encoding": {"x": {"field": "t", "type": "quantitative", "scale": {"domain": [0, 1.5], "nice": false, "zero": false}, "axis": null},
    "y": {"datum": -0.39, "type": "quantitative", "scale": {"domain": [-0.6, 0.6], "nice": false, "zero": false}, "axis": {"orient": "right", "values": [-0.5,-0.3,-0.1,0.1,0.3,0.5], "tickSize": 5, "offset": -5, "labels": false, "title": null}},
    "text": {"field": "ph"}}},
  {"data": {"values": [{"lab": "east\nOFFSET:"}]}, "mark": {"type": "text", "align": "left", "baseline": "middle", "lineBreak": "\n", "lineHeight": 14, "clip": true, "font": "DejaVu Sans", "fontSize": 12, "fontWeight": "bold", "color": "black"},
   "encoding": {"x": {"datum": 1.437, "type": "quantitative", "scale": {"domain": [0, 1.5], "nice": false, "zero": false}, "axis": null},
    "y": {"datum": 0.26, "type": "quantitative", "scale": {"domain": [-0.6, 0.6], "nice": false, "zero": false}, "axis": null},
    "text": {"field": "lab"}}}
 ]},
{"width": 990, "height": 86, "resolve": {"axis": {"x": "independent", "y": "independent"}},
 "layer": [
  {"data": {"name": "p5"}, "mark": {"type": "line", "clip": true, "color": "black", "strokeWidth": 2},
   "encoding": {"x": {"field": "t", "type": "quantitative", "scale": {"domain": [0, 1.5], "nice": false, "zero": false}, "axis": {"orient": "top", "values": [0.05,0.1,0.15,0.25,0.3,0.35,0.45,0.5,0.55,0.65,0.7,0.75,0.85,0.9,0.95,1.05,1.1,1.15,1.25,1.3,1.35,1.45], "tickSize": 4, "offset": -4, "labels": false, "title": null}},
    "y": {"field": "v", "type": "quantitative", "scale": {"domain": [-0.6, 0.6], "nice": false, "zero": false}, "axis": {"orient": "left", "values": [-0.6,-0.4,-0.2,0,0.2,0.4,0.6], "tickSize": 10, "offset": -10, "labelPadding": 1, "labelExpr": "datum.value > 0.55 ? '' : (abs(datum.value) < 0.01 ? '−0.0' : format(datum.value, '.1f'))", "title": null}}}},
  {"data": {"values": [{"ph": "P", "t": 0.1}]}, "mark": {"type": "rule", "color": "black", "strokeWidth": 2},
   "encoding": {"x": {"field": "t", "type": "quantitative", "scale": {"domain": [0, 1.5], "nice": false, "zero": false}, "axis": {"orient": "top", "values": [0,0.2,0.4,0.6,0.8,1,1.2,1.4], "tickSize": 8, "offset": -8, "labels": false, "title": null}},
    "y": {"datum": 0.6, "type": "quantitative", "scale": {"domain": [-0.6, 0.6], "nice": false, "zero": false}, "axis": {"orient": "left", "values": [-0.5,-0.3,-0.1,0.1,0.3,0.5], "tickSize": 5, "offset": -5, "labels": false, "title": null}},
    "y2": {"datum": -0.55}}},
  {"data": {"values": [{"ph": "S", "t": 0.38}]}, "mark": {"type": "rule", "color": "black", "strokeWidth": 2},
   "encoding": {"x": {"field": "t", "type": "quantitative", "scale": {"domain": [0, 1.5], "nice": false, "zero": false}, "axis": null},
    "y": {"datum": 0.53, "type": "quantitative", "scale": {"domain": [-0.6, 0.6], "nice": false, "zero": false}, "axis": {"orient": "right", "values": [-0.6,-0.4,-0.2,0,0.2,0.4,0.6], "tickSize": 10, "offset": -10, "labels": false, "title": null}},
    "y2": {"datum": -0.55}}},
  {"data": {"values": [{"ph": "P", "t": 0.1}, {"ph": "S", "t": 0.38}]}, "mark": {"type": "text", "align": "left", "baseline": "middle", "dx": 6, "font": "DejaVu Sans", "fontSize": 12, "fontWeight": "bold", "color": "black"},
   "encoding": {"x": {"field": "t", "type": "quantitative", "scale": {"domain": [0, 1.5], "nice": false, "zero": false}, "axis": null},
    "y": {"datum": -0.39, "type": "quantitative", "scale": {"domain": [-0.6, 0.6], "nice": false, "zero": false}, "axis": {"orient": "right", "values": [-0.5,-0.3,-0.1,0.1,0.3,0.5], "tickSize": 5, "offset": -5, "labels": false, "title": null}},
    "text": {"field": "ph"}}},
  {"data": {"values": [{"lab": "north\nOFFSET:"}]}, "mark": {"type": "text", "align": "left", "baseline": "middle", "lineBreak": "\n", "lineHeight": 14, "clip": true, "font": "DejaVu Sans", "fontSize": 12, "fontWeight": "bold", "color": "black"},
   "encoding": {"x": {"datum": 1.427, "type": "quantitative", "scale": {"domain": [0, 1.5], "nice": false, "zero": false}, "axis": null},
    "y": {"datum": 0.26, "type": "quantitative", "scale": {"domain": [-0.6, 0.6], "nice": false, "zero": false}, "axis": null},
    "text": {"field": "lab"}}}
 ]},
{"width": 990, "height": 86, "resolve": {"axis": {"x": "independent", "y": "independent"}},
 "layer": [
  {"data": {"name": "p6"}, "mark": {"type": "line", "clip": true, "color": "black", "strokeWidth": 2},
   "encoding": {"x": {"field": "t", "type": "quantitative", "scale": {"domain": [0, 1.5], "nice": false, "zero": false}, "axis": {"orient": "top", "values": [0.05,0.1,0.15,0.25,0.3,0.35,0.45,0.5,0.55,0.65,0.7,0.75,0.85,0.9,0.95,1.05,1.1,1.15,1.25,1.3,1.35,1.45], "tickSize": 4, "offset": -4, "labels": false, "title": null}},
    "y": {"field": "v", "type": "quantitative", "scale": {"domain": [-0.6, 0.6], "nice": false, "zero": false}, "axis": {"orient": "left", "values": [-0.6,-0.4,-0.2,0,0.2,0.4,0.6], "tickSize": 10, "offset": -10, "labelPadding": 1, "labelExpr": "datum.value > 0.55 ? '' : (abs(datum.value) < 0.01 ? '−0.0' : format(datum.value, '.1f'))", "title": null}}}},
  {"data": {"values": [{"ph": "P", "t": 0.1}]}, "mark": {"type": "rule", "color": "black", "strokeWidth": 2},
   "encoding": {"x": {"field": "t", "type": "quantitative", "scale": {"domain": [0, 1.5], "nice": false, "zero": false}, "axis": {"orient": "top", "values": [0,0.2,0.4,0.6,0.8,1,1.2,1.4], "tickSize": 8, "offset": -8, "labels": false, "title": null}},
    "y": {"datum": 0.6, "type": "quantitative", "scale": {"domain": [-0.6, 0.6], "nice": false, "zero": false}, "axis": {"orient": "left", "values": [-0.5,-0.3,-0.1,0.1,0.3,0.5], "tickSize": 5, "offset": -5, "labels": false, "title": null}},
    "y2": {"datum": -0.55}}},
  {"data": {"values": [{"ph": "S", "t": 0.38}]}, "mark": {"type": "rule", "color": "black", "strokeWidth": 2},
   "encoding": {"x": {"field": "t", "type": "quantitative", "scale": {"domain": [0, 1.5], "nice": false, "zero": false}, "axis": {"orient": "bottom", "values": [0,0.2,0.4,0.6,0.8,1,1.2,1.4], "tickSize": 8, "offset": -8, "labelPadding": 4, "format": ".1f", "labelFontSize": 13, "title": "tempo [s]; sismogramas alinhados na P em 0.1s", "titleFontSize": 16, "titlePadding": 4}},
    "y": {"datum": 0.53, "type": "quantitative", "scale": {"domain": [-0.6, 0.6], "nice": false, "zero": false}, "axis": {"orient": "right", "values": [-0.6,-0.4,-0.2,0,0.2,0.4,0.6], "tickSize": 10, "offset": -10, "labels": false, "title": null}},
    "y2": {"datum": -0.55}}},
  {"data": {"values": [{"ph": "P", "t": 0.1}, {"ph": "S", "t": 0.38}]}, "mark": {"type": "text", "align": "left", "baseline": "middle", "dx": 6, "font": "DejaVu Sans", "fontSize": 12, "fontWeight": "bold", "color": "black"},
   "encoding": {"x": {"field": "t", "type": "quantitative", "scale": {"domain": [0, 1.5], "nice": false, "zero": false}, "axis": {"orient": "bottom", "values": [0.05,0.1,0.15,0.25,0.3,0.35,0.45,0.5,0.55,0.65,0.7,0.75,0.85,0.9,0.95,1.05,1.1,1.15,1.25,1.3,1.35,1.45], "tickSize": 4, "offset": -4, "labels": false, "title": null}},
    "y": {"datum": -0.39, "type": "quantitative", "scale": {"domain": [-0.6, 0.6], "nice": false, "zero": false}, "axis": {"orient": "right", "values": [-0.5,-0.3,-0.1,0.1,0.3,0.5], "tickSize": 5, "offset": -5, "labels": false, "title": null}},
    "text": {"field": "ph"}}},
  {"data": {"values": [{"lab": "vertical\nOFFSET:"}]}, "mark": {"type": "text", "align": "left", "baseline": "middle", "lineBreak": "\n", "lineHeight": 14, "clip": true, "font": "DejaVu Sans", "fontSize": 12, "fontWeight": "bold", "color": "black"},
   "encoding": {"x": {"datum": 1.408, "type": "quantitative", "scale": {"domain": [0, 1.5], "nice": false, "zero": false}, "axis": null},
    "y": {"datum": 0.26, "type": "quantitative", "scale": {"domain": [-0.6, 0.6], "nice": false, "zero": false}, "axis": null},
    "text": {"field": "lab"}}}
 ]}
],
"config": {
 "view": {"stroke": "black", "strokeWidth": 2},
 "axis": {"grid": false, "domain": false, "tickColor": "black", "tickWidth": 2, "labelColor": "black", "labelFont": "DejaVu Sans", "labelFontWeight": "bold", "labelFontSize": 12, "labelOverlap": false, "labelFlush": false, "titleFont": "DejaVu Sans", "titleFontWeight": "normal", "titleColor": "black"},
 "font": "DejaVu Sans"
}
}
